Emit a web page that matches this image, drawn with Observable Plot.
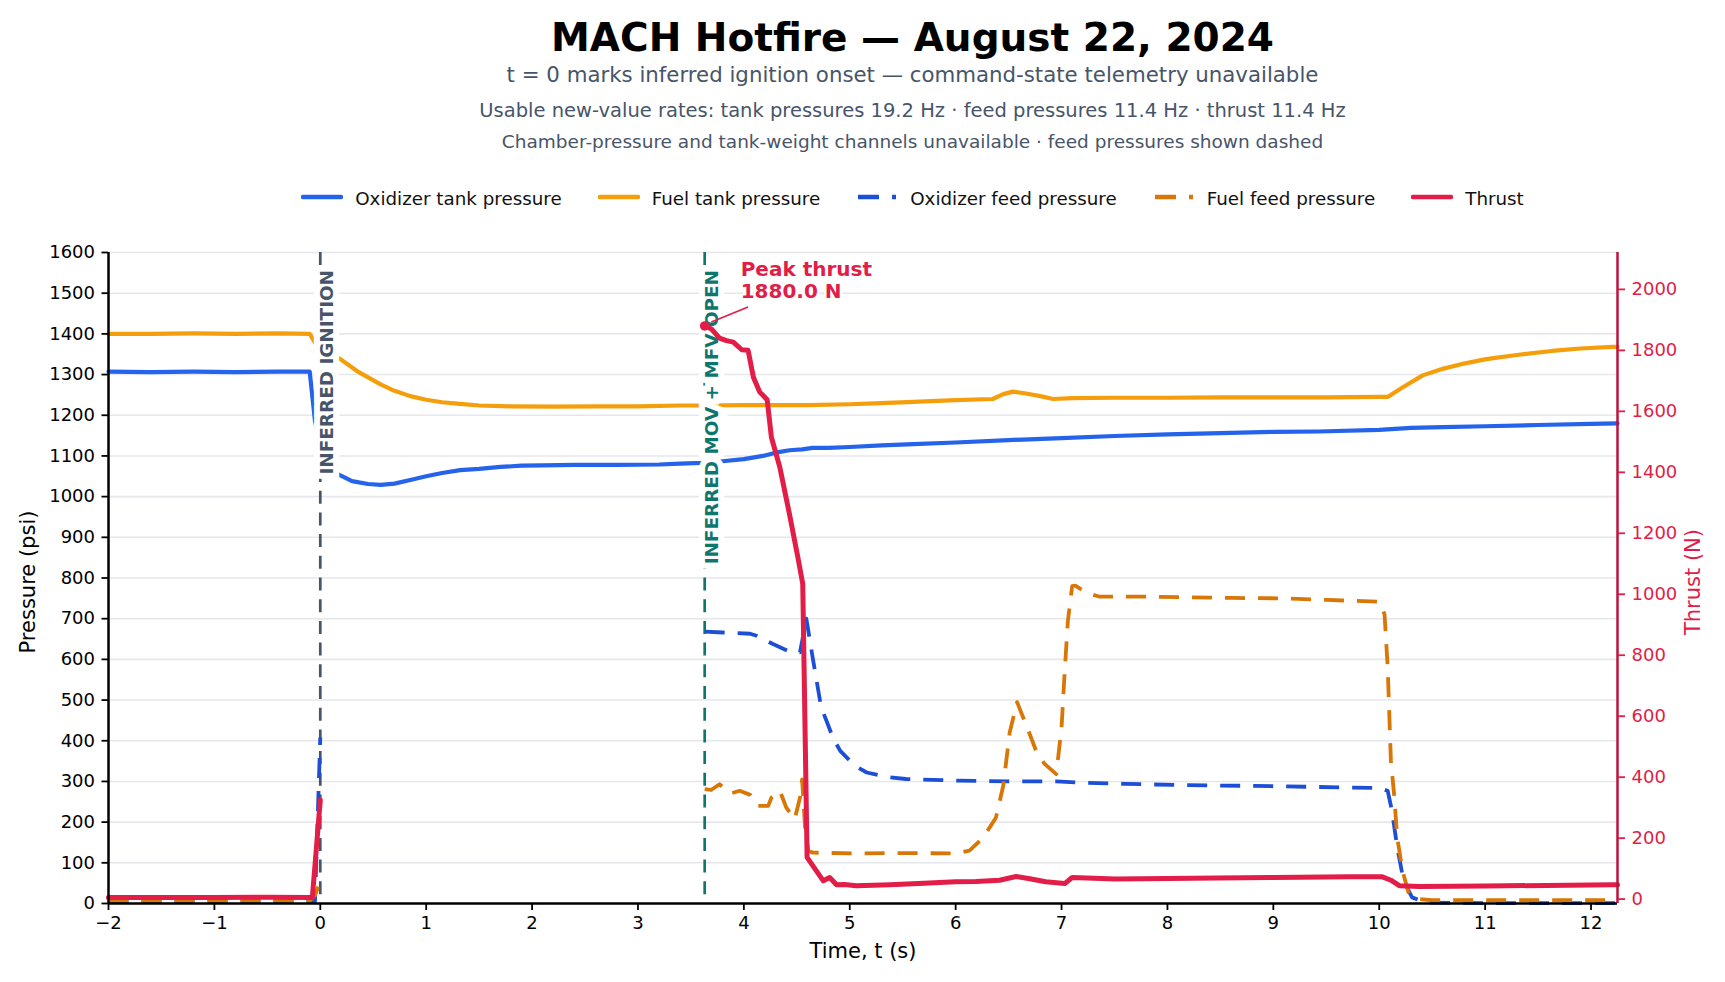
<!DOCTYPE html>
<html>
<head>
<meta charset="utf-8">
<script src="https://cdn.jsdelivr.net/npm/d3@7"></script>
<script src="https://cdn.jsdelivr.net/npm/@observablehq/plot@0.6"></script>
<style>
  body { margin: 0; background: #fff; overflow: hidden; font-family: "DejaVu Sans", sans-serif; }
  #wrap { position: relative; width: 1725px; height: 982px; overflow: hidden; }
  .hdr { position: absolute; left: 0; width: 1825px; text-align: center; white-space: nowrap; }
  #title { top: 17.5px; font-size: 39px; line-height: 39px; font-weight: bold; color: #000; }
  #sub1 { top: 63.5px; font-size: 21.3px; line-height: 21.3px; color: #475569; }
  #sub2 { top: 101px; font-size: 19.5px; line-height: 19.5px; color: #475569; }
  #sub3 { top: 132.5px; font-size: 18.5px; line-height: 18.5px; color: #475569; }
  #legend { top: 188px; display: flex; justify-content: center; gap: 36px; font-size: 18.3px; line-height: 22px; color: #111; }
  .item { display: flex; align-items: center; }
  .item svg { margin-right: 12px; position: relative; top: -2px; }
  #chart { position: absolute; left: 0; top: 220px; }
</style>
</head>
<body>
<div id="wrap">
  <div id="title" class="hdr"></div>
  <div id="sub1" class="hdr"></div>
  <div id="sub2" class="hdr"></div>
  <div id="sub3" class="hdr"></div>
  <div id="legend" class="hdr"></div>
  <div id="chart"></div>
</div>
<script>
// ---------------- text ----------------
const titleText = "MACH Hotfire — August 22, 2024";
const subtitleLines = [
  "t = 0 marks inferred ignition onset — command-state telemetry unavailable",
  "Usable new-value rates: tank pressures 19.2 Hz · feed pressures 11.4 Hz · thrust 11.4 Hz",
  "Chamber-pressure and tank-weight channels unavailable · feed pressures shown dashed"
];
const seriesNames = ["Oxidizer tank pressure", "Fuel tank pressure", "Oxidizer feed pressure", "Fuel feed pressure", "Thrust"];
const seriesColors = ["#2563eb", "#f59e0b", "#1d4ed8", "#d97706", "#e11d48"];
const seriesDashed = [false, false, true, true, false];

// ---------------- axes ----------------
const xDomain = [-2, 12.25];
const xTicks = [-2, -1, 0, 1, 2, 3, 4, 5, 6, 7, 8, 9, 10, 11, 12];
const pressureDomain = [0, 1600];
const pressureTicks = [0, 100, 200, 300, 400, 500, 600, 700, 800, 900, 1000, 1100, 1200, 1300, 1400, 1500, 1600];
const thrustDomain = [-14.4, 2121];
const thrustTicks = [0, 200, 400, 600, 800, 1000, 1200, 1400, 1600, 1800, 2000];

// ---------------- events ----------------
const ignitionT = 0;
const ignitionLabel = "INFERRED IGNITION";
const movT = 3.63;
const movLabel = "INFERRED MOV + MFV OPEN";

// ---------------- series: [time s, value] ----------------
const oxTank = [[-2,1307],[-1.6,1306],[-1.2,1307],[-0.8,1306],[-0.4,1307],[-0.1,1307],[-0.05,1186],[0.02,1100],[0.1,1065],[0.19,1052],[0.3,1038],[0.45,1031],[0.57,1029],[0.7,1032],[0.85,1041],[1.0,1050],[1.15,1058],[1.32,1065],[1.5,1068],[1.7,1073],[1.9,1076],[2.1,1077],[2.4,1078],[2.8,1078],[3.2,1079],[3.4,1081],[3.6,1083],[3.8,1087],[4.0,1092],[4.18,1100],[4.3,1108],[4.43,1114],[4.55,1116],[4.65,1120],[4.8,1120],[5.0,1122],[5.3,1126],[5.6,1129],[6.0,1133],[6.5,1139],[7.0,1144],[7.5,1149],[8.0,1153],[8.5,1156],[9.0,1159],[9.43,1160],[10.0,1164],[10.3,1169],[10.6,1171],[11.0,1173],[11.5,1176],[12.0,1179],[12.25,1180]];

const fuelTank = [[-2,1400],[-1.6,1400],[-1.2,1401],[-0.8,1400],[-0.4,1401],[-0.1,1400],[-0.03,1370],[0.05,1355],[0.19,1338],[0.35,1308],[0.57,1276],[0.7,1260],[0.85,1247],[1.0,1238],[1.15,1232],[1.32,1228],[1.5,1224],[1.8,1222],[2.2,1221],[2.6,1222],[3.0,1222],[3.4,1224],[3.63,1224],[4.0,1225],[4.6,1225],[5.0,1227],[5.3,1230],[5.6,1233],[6.0,1237],[6.35,1240],[6.45,1252],[6.54,1258],[6.65,1254],[6.8,1247],[6.92,1240],[7.1,1242],[7.5,1243],[8.0,1243],[8.5,1244],[9.0,1244],[9.5,1244],[10.0,1245],[10.08,1245],[10.2,1265],[10.41,1298],[10.6,1314],[10.8,1327],[11.01,1338],[11.3,1348],[11.63,1358],[11.9,1364],[12.2,1368],[12.25,1368]];

const oxFeed = [[-2,5],[-1,5],[-0.1,5],[-0.05,5],[0,408],[1.8,null],[3.63,668],[3.8,666],[4.06,663],[4.12,658],[4.28,637],[4.45,617],[4.53,617],[4.59,700],[4.65,604],[4.73,482],[4.78,449],[4.84,408],[4.91,375],[5.05,338],[5.16,322],[5.35,311],[5.53,306],[6.0,302],[6.6,300],[6.95,300],[7.2,297],[7.6,294],[8.14,291],[8.8,289],[9.3,287],[9.72,285],[10.0,284],[10.08,277],[10.12,228],[10.17,138],[10.23,56],[10.31,15],[10.44,2],[11,1],[12.25,1]];

const fuelFeed = [[-2,7],[-1,7],[-0.1,7],[-0.05,20],[0,56],[1.8,null],[3.63,281],[3.69,279],[3.77,293],[3.87,270],[3.96,277],[4.06,267],[4.13,240],[4.23,240],[4.26,260],[4.34,277],[4.40,236],[4.48,207],[4.53,260],[4.55,305],[4.58,178],[4.61,129],[4.65,125],[5.06,123],[5.5,124],[6.0,123],[6.13,130],[6.26,162],[6.38,211],[6.45,290],[6.51,420],[6.58,495],[6.70,416],[6.76,375],[6.84,343],[6.95,318],[7.0,432],[7.03,572],[7.06,695],[7.10,780],[7.13,781],[7.25,762],[7.36,754],[7.83,754],[8.62,751],[9.09,750],[9.5,746],[10.0,742],[10.05,711],[10.08,580],[10.11,351],[10.14,269],[10.17,162],[10.22,80],[10.28,23],[10.38,11],[10.5,8],[11,8],[12.25,8]];

const thrust = [[-2,5],[-1.5,5],[-1,5],[-0.5,6],[-0.1,5],[-0.075,5],[0,325],[1.8,null],[3.63,1880],[3.695,1870],[3.77,1840],[3.836,1832],[3.90,1827],[3.98,1802],[4.04,1800],[4.09,1712],[4.15,1663],[4.22,1638],[4.26,1515],[4.34,1416],[4.43,1264],[4.51,1121],[4.556,1034],[4.597,137],[4.68,95],[4.75,60],[4.81,71],[4.875,47],[4.95,48],[5.06,44],[5.38,47],[5.7,52],[6.0,57],[6.19,58],[6.415,62],[6.57,74],[6.7,67],[6.85,57],[7.03,51],[7.10,71],[7.51,66],[8.0,68],[8.46,69],[9.0,71],[9.72,73],[10.03,73],[10.11,62],[10.19,44],[10.38,41],[11.0,43],[12.2,47],[12.25,47]];

// ---------------- header ----------------
document.getElementById("title").textContent = titleText;
document.getElementById("sub1").textContent = subtitleLines[0];
document.getElementById("sub2").textContent = subtitleLines[1];
document.getElementById("sub3").textContent = subtitleLines[2];
const legend = document.getElementById("legend");
seriesNames.forEach((name, i) => {
  const item = document.createElement("div");
  item.className = "item";
  const dash = seriesDashed[i] ? ' stroke-dasharray="21,13"' : "";
  const cap = seriesDashed[i] ? "butt" : "round";
  item.innerHTML = `<svg width="42" height="10"><line x1="2" x2="40" y1="5" y2="5" stroke="${seriesColors[i]}" stroke-width="4.6" stroke-linecap="${cap}"${dash}/></svg><span>${name}</span>`;
  legend.appendChild(item);
});

// ---------------- chart ----------------
const toP = d3.scaleLinear().domain(thrustDomain).range(pressureDomain);
const rows = s => s.map(([t, v]) => ({t, v: v == null ? NaN : v}));
const peak = thrust.filter(d => d[1] != null).reduce((a, b) => (b[1] > a[1] ? b : a));
const peakRow = {t: peak[0], v: peak[1]};
const fmt = d3.format("d");
const font = "DejaVu Sans";
const eventLabelTop = pressureDomain[1] - 43;

const chart = Plot.plot({
  width: 1725,
  height: 762,
  marginTop: 32,
  marginBottom: 79,
  marginLeft: 108,
  marginRight: 108,
  style: {fontFamily: font, fontSize: "18px", background: "#fff", overflow: "visible"},
  x: {domain: xDomain, axis: null},
  y: {domain: pressureDomain, axis: null},
  marks: [
    Plot.gridY(pressureTicks, {stroke: "#e5e7eb", strokeOpacity: 1, strokeWidth: 1.6}),
    Plot.ruleX([ignitionT], {stroke: "#475569", strokeWidth: 2.7, strokeDasharray: "13,8.7"}),
    Plot.ruleX([movT], {stroke: "#0f766e", strokeWidth: 2.7, strokeDasharray: "13,8.7"}),
    Plot.line(rows(oxTank), {x: "t", y: "v", stroke: seriesColors[0], strokeWidth: 4.2}),
    Plot.line(rows(fuelTank), {x: "t", y: "v", stroke: seriesColors[1], strokeWidth: 4.2}),
    Plot.line(rows(oxFeed), {x: "t", y: "v", stroke: seriesColors[2], strokeWidth: 3.8, strokeDasharray: "20,13", strokeLinecap: "butt"}),
    Plot.line(rows(fuelFeed), {x: "t", y: "v", stroke: seriesColors[3], strokeWidth: 3.8, strokeDasharray: "20,13", strokeLinecap: "butt"}),
    Plot.text([{t: ignitionT, label: ignitionLabel}], {
      x: "t", y: () => eventLabelTop, text: "label", rotate: -90, textAnchor: "end", dx: 7,
      fill: "#475569", fontWeight: "bold", fontSize: 18.4, stroke: "white", strokeWidth: 12, strokeLinejoin: "miter"
    }),
    Plot.text([{t: movT, label: movLabel}], {
      x: "t", y: () => eventLabelTop, text: "label", rotate: -90, textAnchor: "end", dx: 7,
      fill: "#0f766e", fontWeight: "bold", fontSize: 18.4, stroke: "white", strokeWidth: 12, strokeLinejoin: "miter"
    }),
    Plot.line(rows(thrust), {x: "t", y: d => toP(d.v), stroke: seriesColors[4], strokeWidth: 5}),
    Plot.link([peakRow], {
      x1: d => d.t + 0.063, y1: d => toP(d.v) + 9.8,
      x2: d => d.t + 0.41, y2: d => toP(d.v) + 46.7,
      stroke: seriesColors[4], strokeWidth: 1.8
    }),
    Plot.dot([peakRow], {x: "t", y: d => toP(d.v), r: 4.8, fill: seriesColors[4]}),
    Plot.text([peakRow], {
      x: "t", y: d => toP(d.v), text: d => `Peak thrust\n${d.v.toFixed(1)} N`,
      dx: 36, dy: -65, lineAnchor: "top", textAnchor: "start", lineHeight: 1.08,
      fill: seriesColors[4], fontWeight: "bold", fontSize: 20, stroke: "white", strokeWidth: 4
    }),
    // spines
    Plot.ruleY([pressureDomain[0]], {stroke: "#000", strokeWidth: 2.5}),
    Plot.ruleX([xDomain[0]], {stroke: "#000", strokeWidth: 2.5}),
    Plot.ruleX([xDomain[1]], {stroke: "#be123c", strokeWidth: 2.5}),
    // axes
    Plot.axisX(xTicks, {anchor: "bottom", tickFormat: fmt, tickSize: 7, tickPadding: 6, fontSize: 18, label: null, color: "#000", strokeWidth: 1.8}),
    Plot.axisY(pressureTicks, {anchor: "left", tickFormat: fmt, tickSize: 6.5, tickPadding: 7, fontSize: 18, label: null, color: "#000", strokeWidth: 1.8}),
    Plot.axisY(thrustTicks.map(toP), {anchor: "right", tickFormat: d => fmt(Math.round(toP.invert(d))), tickSize: 7, tickPadding: 7, fontSize: 18, label: null, color: "#e11d48", strokeWidth: 1.8}),
    // axis titles
    Plot.text(["Time, t (s)"], {frameAnchor: "bottom", dy: 54, fontSize: 21, fill: "#000"}),
    Plot.text(["Pressure (psi)"], {frameAnchor: "left", textAnchor: "middle", dx: -80, dy: 4, rotate: -90, fontSize: 21, fill: "#000"}),
    Plot.text(["Thrust (N)"], {frameAnchor: "right", textAnchor: "middle", dx: 76, dy: 4, rotate: -90, fontSize: 21, fill: "#e11d48"})
  ]
});
document.getElementById("chart").appendChild(chart);
</script>
</body>
</html>
